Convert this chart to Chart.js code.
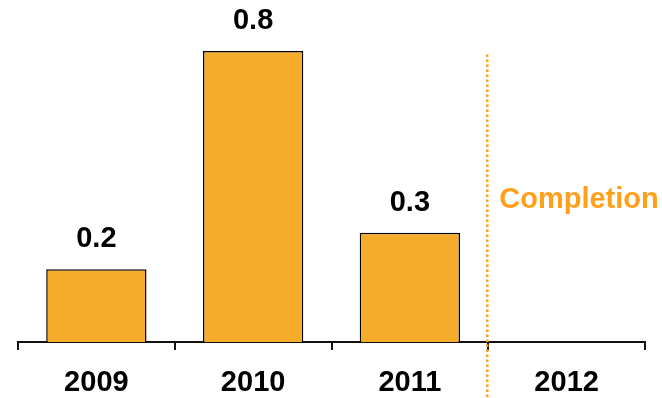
<!DOCTYPE html>
<html>
<head>
<meta charset="utf-8">
<script src="https://cdn.jsdelivr.net/npm/chart.js@4.4.0/dist/chart.umd.min.js"></script>
<style>
  html, body { margin: 0; padding: 0; background: #fff; }
  #wrap { width: 662px; height: 398px; }
</style>
</head>
<body>
<div id="wrap"><canvas id="chart" width="662" height="398"></canvas></div>
<script>
// datos del grafico
const years = ['2009', '2010', '2011', '2012'];
const values = [0.2, 0.8, 0.3, null];
const valueLabels = ['0.2', '0.8', '0.3', ''];
const markerText = 'Completion';

const orange = '#F5AC2B';
const lineOrange = '#FF9F1A';
const fontFamily = '"Liberation Sans", Arial, sans-serif';

// linea punteada y texto "Completion" entre 2011 y 2012
const completionPlugin = {
    id: 'completion',
    afterDatasetsDraw(chart) {
        const ctx = chart.ctx;
        const x = chart.scales.x;
        const y = chart.scales.y;
        const xPos = (x.getPixelForValue(2) + x.getPixelForValue(3)) / 2 - 1;
        ctx.save();
        ctx.strokeStyle = lineOrange;
        ctx.lineWidth = 2.5;
        ctx.setLineDash([2.5, 2.5]);
        ctx.beginPath();
        ctx.moveTo(xPos, y.getPixelForValue(0.79));
        ctx.lineTo(xPos, chart.height);
        ctx.stroke();
        ctx.setLineDash([]);
        ctx.fillStyle = lineOrange;
        ctx.font = 'bold 29px ' + fontFamily;
        ctx.textAlign = 'left';
        ctx.textBaseline = 'middle';
        ctx.fillText(markerText, xPos + 12, y.getPixelForValue(0.39));

        // etiquetas de valores sobre las barras
        ctx.fillStyle = '#000';
        ctx.textAlign = 'center';
        ctx.font = 'bold 29px ' + fontFamily;
        const meta = chart.getDatasetMeta(0);
        meta.data.forEach((bar, i) => {
            if (values[i] === null) return;
            ctx.fillText(valueLabels[i], bar.x, bar.y - 30);
        });
        ctx.restore();
    }
};

const ctx = document.getElementById('chart').getContext('2d');
const chart = new Chart(ctx, {
    type: 'bar',
    data: {
        labels: years,
        datasets: [{
            data: values,
            backgroundColor: orange,
            borderColor: '#000',
            borderWidth: 1.5,
            borderSkipped: 'bottom',
            barPercentage: 0.64,
            categoryPercentage: 1
        }]
    },
    options: {
        responsive: false,
        animation: false,
        layout: { padding: { left: 18, right: 17, top: 0, bottom: 0 } },
        plugins: {
            legend: { display: false },
            tooltip: { enabled: false }
        },
        scales: {
            x: {
                offset: true,
                grid: {
                    offset: true,
                    drawOnChartArea: false,
                    drawTicks: true,
                    tickLength: 8,
                    color: '#111',
                    lineWidth: 2
                },
                border: { display: true, color: '#111', width: 2 },
                ticks: {
                    color: '#000',
                    padding: 16,
                    font: { family: fontFamily, size: 29, weight: 'bold' }
                },
                afterFit(scale) { scale.height = 56; }
            },
            y: {
                display: false,
                min: 0,
                max: 0.94
            }
        }
    },
    plugins: [completionPlugin]
});
</script>
</body>
</html>
